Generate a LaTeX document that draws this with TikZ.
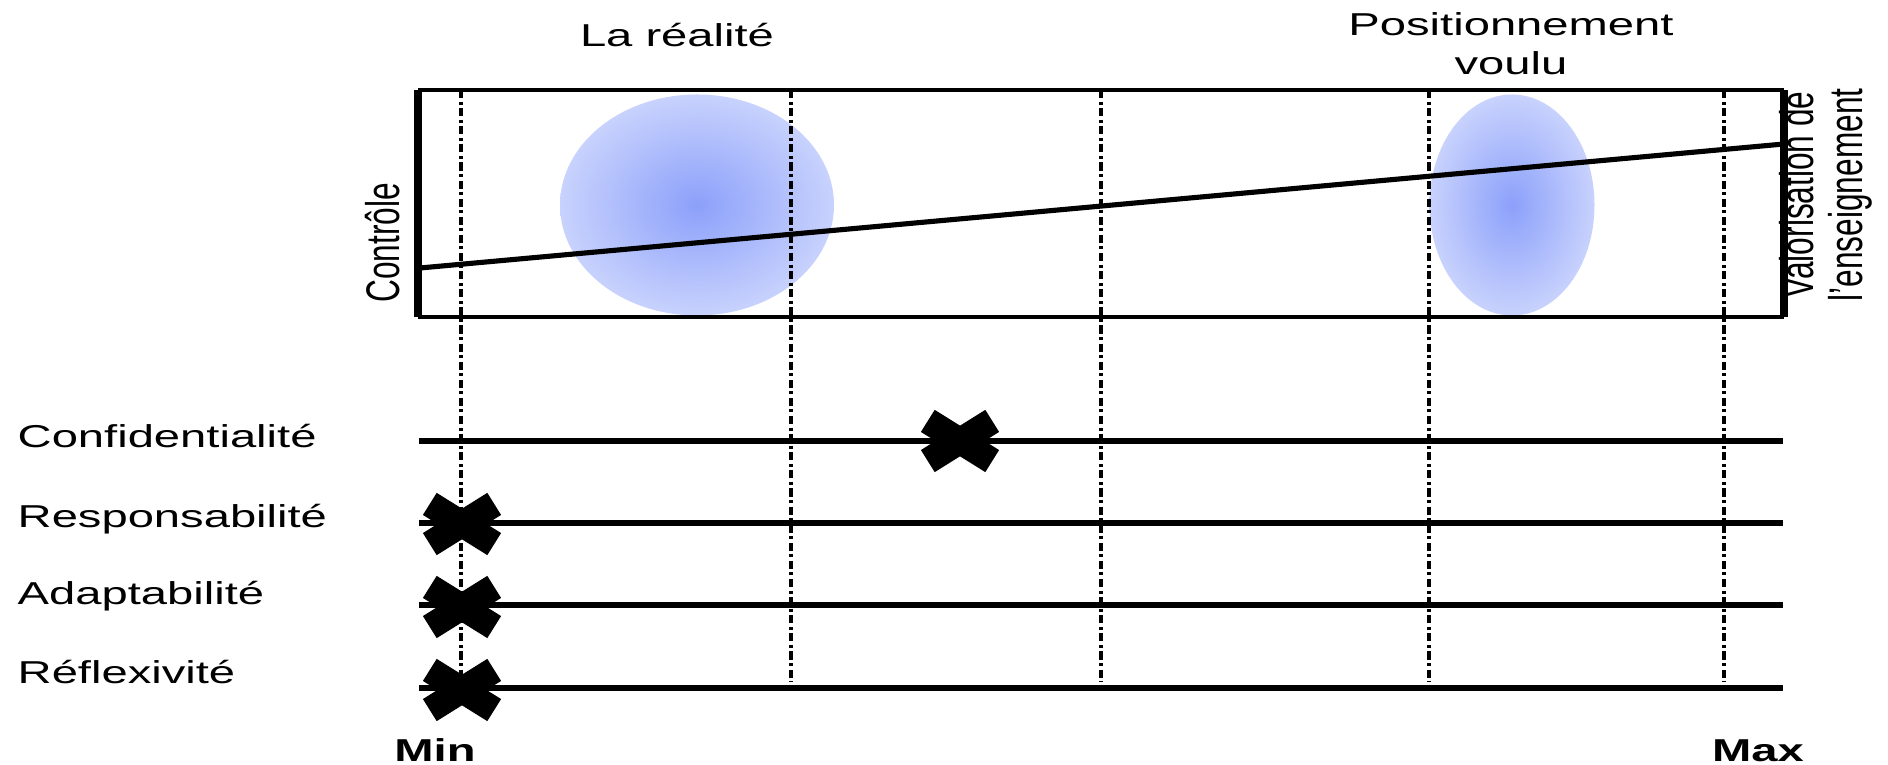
\documentclass[tikz,border=0pt]{standalone}
\usepackage{fontspec}
\setmainfont{Liberation Sans}
\usepackage{graphicx}
\definecolor{blobin}{RGB}{140,160,250}
\definecolor{blobout}{RGB}{200,210,253}
\newcommand{\wtext}[1]{\scalebox{1.49}[1]{#1}}
\newcommand{\vtext}[1]{\scalebox{1}[1.49]{#1}}
\begin{document}
\begin{tikzpicture}[x=0.01cm,y=-0.01cm,
  lbl/.style={inner sep=0pt, font=\fontsize{9}{10.8}\selectfont},
  boldlbl/.style={inner sep=0pt, font=\fontsize{9}{10.8}\selectfont\bfseries},
  gridline/.style={line width=1pt, dash pattern=on 2.3pt off 1pt on 0.85pt off 1pt},
  rowline/.style={line width=1.7pt},
  trend/.style={line width=1.45pt},
  blob/.style={shade, inner color=blobin, outer color=blobout},
  xmark/.pic={
    \draw[line width=7.4pt, line cap=butt] (-32.2,-20.1) -- (32.2,20.1);
    \draw[line width=7.4pt, line cap=butt] (-32.2,20.1) -- (32.2,-20.1);
  }
]
\useasboundingbox (0,0) rectangle (1888,765);

% blobs
\path[blob] (697,205) ellipse [x radius=137, y radius=110.5];
\path[blob] (1512,205) ellipse [x radius=82.5, y radius=110.5];

% grid lines
\foreach \gx/\gn in {461/g1,791/g2,1101/g3,1429/g4,1724/g5}{
  \coordinate (\gn top) at (\gx,90);
  \coordinate (\gn bot) at (\gx,682);
  \draw[gridline] (\gn top) -- (\gn bot);
}

% box
\coordinate (tl) at (418,90);
\coordinate (tr) at (1784,90);
\coordinate (bl) at (418,317);
\coordinate (br) at (1784,317);
\draw[line width=1.3pt] (tl) -- (tr) (bl) -- (br);
\draw[line width=2.4pt] (tl) -- (bl);
\draw[line width=2.1pt] (tr) -- (br);

% trend line
\coordinate (trA) at (420,268);
\coordinate (trB) at (1784,144);
\draw[trend] (trA) -- (trB);

% rows
\foreach \ry/\rn in {441/r1,523/r2,605/r3,688/r4}{
  \coordinate (\rn a) at (419,\ry);
  \coordinate (\rn b) at (1783,\ry);
  \draw[rowline] (\rn a) -- (\rn b);
}

% crosses
\pic (x1) at (960,441) {xmark};
\pic (x2) at (462,524) {xmark};
\pic (x3) at (462,607) {xmark};
\pic (x4) at (462,690) {xmark};

% titles
\node[lbl, anchor=base] (real) at (677,47) {\wtext{La réalité}};
\node[lbl, anchor=base] (pos1) at (1511,36) {\wtext{Positionnement}};
\node[lbl, anchor=base] (pos2) at (1511,75) {\wtext{voulu}};

% axis labels
\node[lbl, anchor=base, rotate=90] (ctrl) at (399,243) {\vtext{Contrôle}};
\node[lbl, anchor=base, rotate=90] (val1) at (1813,195) {\vtext{Valorisation de}};
\node[lbl, anchor=base, rotate=90] (val2) at (1862,195) {\vtext{l'enseignement}};

% row labels
\node[lbl, anchor=base west] (l1) at (17,448) {\wtext{Confidentialité}};
\node[lbl, anchor=base west] (l2) at (17,528) {\wtext{Responsabilité}};
\node[lbl, anchor=base west] (l3) at (17,605) {\wtext{Adaptabilité}};
\node[lbl, anchor=base west] (l4) at (17,684) {\wtext{Réflexivité}};

% min / max
\node[boldlbl, anchor=base] (min) at (435,762) {\wtext{Min}};
\node[boldlbl, anchor=base] (max) at (1758,762) {\wtext{Max}};
\end{tikzpicture}
\end{document}
